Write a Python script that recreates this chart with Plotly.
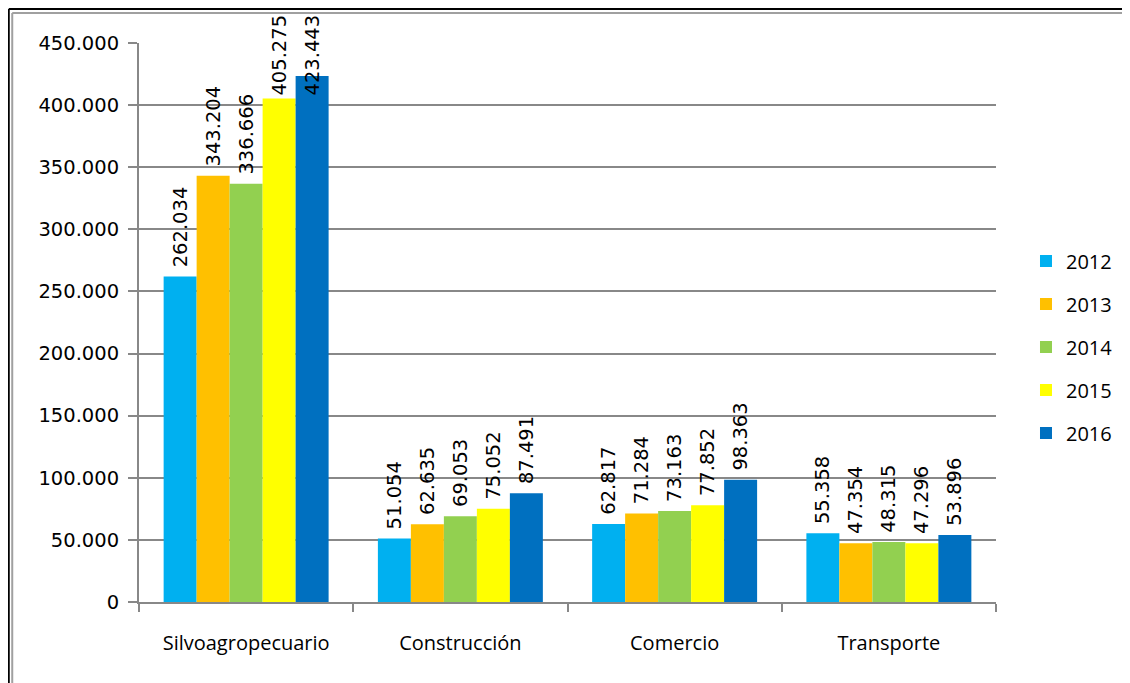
import plotly.graph_objects as go

categories = ["Silvoagropecuario", "Construcción", "Comercio", "Transporte"]
years = ["2012", "2013", "2014", "2015", "2016"]
v2012 = [262034, 51054, 62817, 55358]
v2013 = [343204, 62635, 71284, 47354]
v2014 = [336666, 69053, 73163, 48315]
v2015 = [405275, 75052, 77852, 47296]
v2016 = [423443, 87491, 98363, 53896]
series = [v2012, v2013, v2014, v2015, v2016]
colors = ["#00B0F0", "#FFC000", "#92D050", "#FFFF00", "#0070C0"]

def fmt(v):
    return f"{v:,}".replace(",", ".")

# figure size (page body has an 8px margin)
W, H = 1122, 675
L, R, T, B = 131, 993, 35, 594

LABEL_FONT = dict(family="DejaVu Sans", size=19.5, color="#000")

fig = go.Figure()
annotations = []
for i, (yr, vals, col) in enumerate(zip(years, series, colors)):
    texts = ["\u00a0" + fmt(v) for v in vals]
    if i == 3:
        # label squeezed against the chart top: no gap above the bar
        texts[0] = fmt(vals[0])
    if i == 4:
        # the tallest bar's label is pushed down to stay inside the chart area
        annotations.append(dict(x=categories[0], y=vals[0], xref="x", yref="y",
                                text=fmt(vals[0]), showarrow=False, textangle=-90,
                                xshift=(i - 2) * 33.2, yshift=21, yanchor="middle",
                                font=LABEL_FONT))
        texts[0] = ""
    fig.add_trace(go.Bar(
        x=categories, y=vals, name=yr, marker=dict(color=col, line=dict(width=0)),
        text=texts, textposition="outside", textangle=-90, cliponaxis=False,
        constraintext="none", textfont=LABEL_FONT,
        legendgroup=yr,
    ))

def px_x(p):
    return (p - L) / (R - L)

def px_y(p):
    return (B - p) / (B - T)

shapes = [
    dict(type="line", xref="paper", yref="paper", x0=px_x(0), x1=px_x(1130), y0=px_y(1), y1=px_y(1), line=dict(color="#000", width=2)),
    dict(type="line", xref="paper", yref="paper", x0=px_x(0), x1=px_x(0), y0=px_y(1), y1=px_y(690), line=dict(color="#000", width=2)),
    dict(type="line", xref="paper", yref="paper", x0=px_x(3.5), x1=px_x(1130), y0=px_y(5), y1=px_y(5), line=dict(color="#A0A0A0", width=2)),
    dict(type="line", xref="paper", yref="paper", x0=px_x(3.5), x1=px_x(3.5), y0=px_y(5), y1=px_y(690), line=dict(color="#A0A0A0", width=2)),
]

fig.update_layout(
    width=W, height=H,
    margin=dict(l=L, r=W - R, t=T, b=H - B, pad=0),
    paper_bgcolor="white", plot_bgcolor="white",
    separators=",.",
    barmode="group", bargap=0.23, bargroupgap=0,
    showlegend=True,
    legend=dict(x=1.035, y=0.645, xanchor="left", yanchor="top",
                font=dict(family="Open Sans", size=20, color="#000"),
                tracegroupgap=14, itemwidth=30, bgcolor="rgba(0,0,0,0)"),
    shapes=shapes,
    annotations=annotations,
)
fig.update_xaxes(
    showline=True, linecolor="#888888", linewidth=2,
    ticks="outside", tickson="boundaries", ticklen=8, tickcolor="#888888", tickwidth=2,
    tickfont=dict(family="Open Sans", size=20, color="#000"),
    ticklabelstandoff=22, showgrid=False,
)
fig.update_yaxes(
    range=[0, 450000], dtick=50000, tickformat=",d",
    showline=True, linecolor="#888888", linewidth=2,
    ticks="outside", ticklen=9, tickcolor="#888888", tickwidth=2,
    showgrid=True, gridcolor="#888888", gridwidth=2,
    tickfont=dict(family="DejaVu Sans", size=19.5, color="#000"),
    ticklabelstandoff=5, zeroline=False,
)

fig.write_html("out.html")
